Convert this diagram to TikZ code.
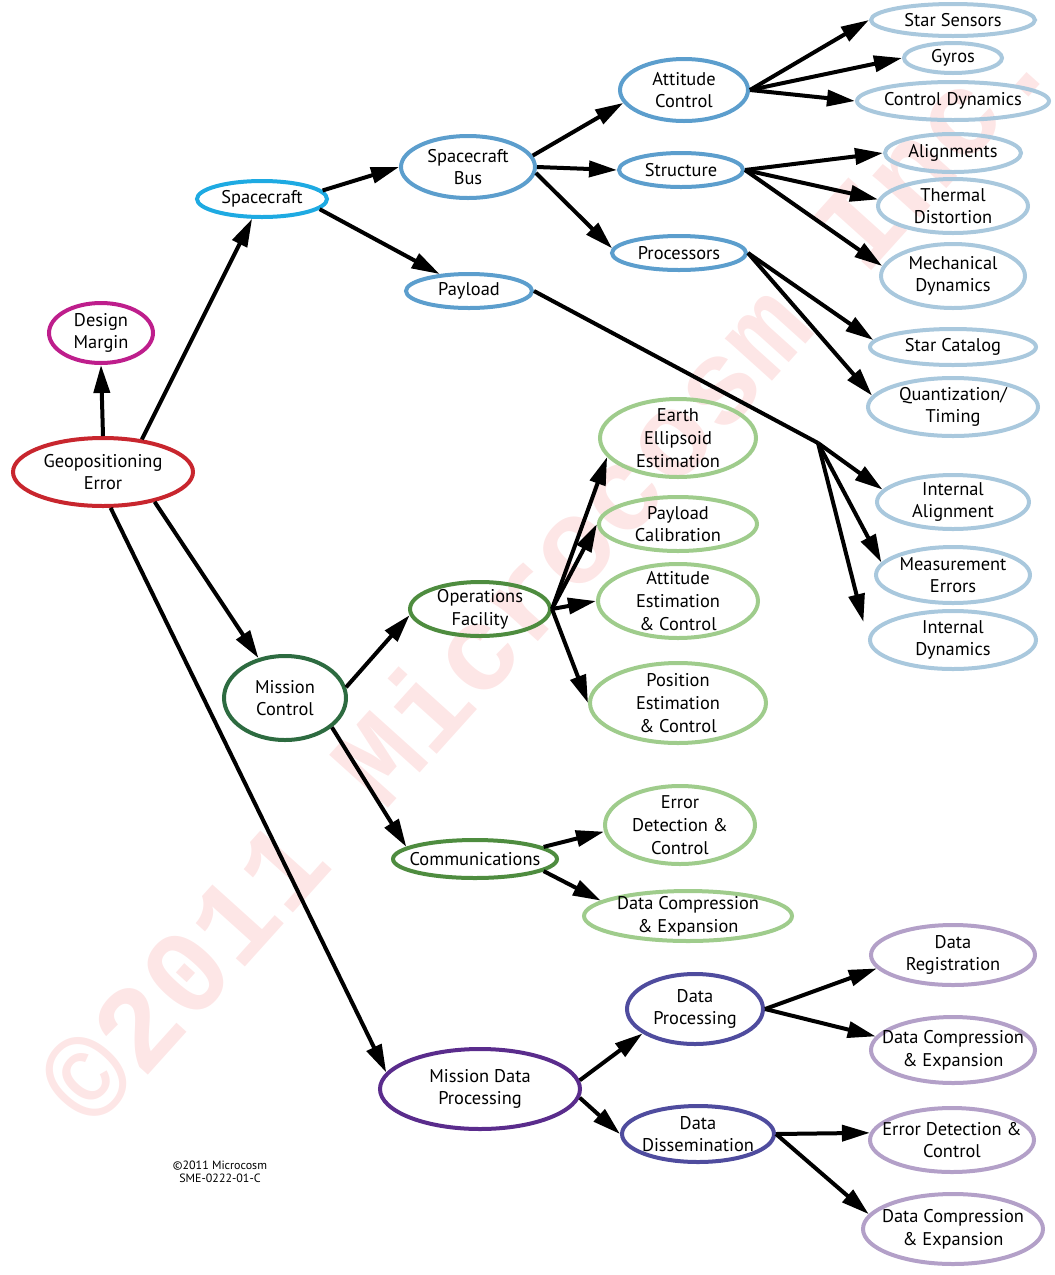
\documentclass[tikz,border=0pt]{standalone}
\usepackage{fontspec}
\setmainfont{PT Sans}
\newfontfamily\wmfont{Liberation Mono}
\usetikzlibrary{shapes.geometric,arrows.meta}
\definecolor{geored}{HTML}{C8262E}
\definecolor{dmmag}{HTML}{BE1E8C}
\definecolor{sccyan}{HTML}{1EAAE2}
\definecolor{busblue}{HTML}{5C9ECD}
\definecolor{leafblue}{HTML}{A9C8DD}
\definecolor{mcgreen}{HTML}{2D6B40}
\definecolor{opgreen}{HTML}{4E8C3F}
\definecolor{leafgreen}{HTML}{9FCC8C}
\definecolor{mdppurple}{HTML}{5A2C8C}
\definecolor{dppurple}{HTML}{4F4C9E}
\definecolor{leafpurple}{HTML}{B3A0C8}
\definecolor{wmpink}{HTML}{FDE6E6}
\begin{document}
\begin{tikzpicture}
    [x=0.75pt,y=-0.75pt,line width=3pt,
     >={Triangle[length=21pt,width=12pt]},
     bub/.style 2 args={ellipse,draw,align=center,inner sep=-60pt,
       minimum width=#1*1.5pt,minimum height=#2*1.5pt}]
    \fontsize{13.8}{17}\selectfont
    \useasboundingbox (0,0) rectangle (1054,1275);
    \node[text=wmpink,rotate=48,font={\wmfont\bfseries\fontsize{90}{90}\selectfont}]
      (wm) at (545,570) {©2011 Microcosm Inc.};
    \node[align=center,font={\fontsize{9}{10}\selectfont}]
      (cr) at (220,1172) {©2011 Microcosm\\SME-0222-01-C};
    % root
    \node[bub={90}{34},draw=geored] (geo) at (103,472) {Geopositioning\\Error};
    \node[bub={52}{30},draw=dmmag] (dm) at (101,333) {Design\\Margin};
    % spacecraft branch
    \node[bub={65}{18},draw=sccyan] (sc) at (262,199) {Spacecraft};
    \node[bub={67}{31},draw=busblue] (sb) at (468,167) {Spacecraft\\Bus};
    \node[bub={63}{17},draw=busblue] (pl) at (469,291) {Payload};
    \node[bub={64}{31},draw=busblue] (ac) at (684,90) {Attitude\\Control};
    \node[bub={62}{17},draw=busblue] (st) at (681,170) {Structure};
    \node[bub={67}{17},draw=busblue] (pr) at (679,253) {Processors};
    \node[bub={82}{16},draw=leafblue] (ss) at (953,20) {Star Sensors};
    \node[bub={49}{15},draw=leafblue] (gy) at (953,58) {Gyros};
    \node[bub={96}{19},draw=leafblue] (cd) at (953,101) {Control Dynamics};
    \node[bub={68}{19},draw=leafblue] (al) at (953,153) {Alignments};
    \node[bub={75}{27},draw=leafblue] (td) at (953,206) {Thermal\\Distortion};
    \node[bub={72}{32},draw=leafblue] (md) at (953,276) {Mechanical\\Dynamics};
    \node[bub={83}{18},draw=leafblue] (sca) at (953,347) {Star Catalog};
    \node[bub={85}{29},draw=leafblue] (qt) at (953,407) {Quantization/\\Timing};
    \node[bub={76}{27},draw=leafblue] (ia) at (953,502) {Internal\\Alignment};
    \node[bub={77}{28},draw=leafblue] (me) at (953,575) {Measurement\\Errors};
    \node[bub={83}{29},draw=leafblue] (id) at (953,640) {Internal\\Dynamics};
    % mission control branch
    \node[bub={61}{42},draw=mcgreen] (mc) at (285,698) {Mission\\Control};
    \node[bub={70}{27},draw=opgreen] (of) at (480,609) {Operations\\Facility};
    \node[bub={82}{19},draw=opgreen] (cm) at (475,859) {Communications};
    \node[bub={78}{39},draw=leafgreen] (ee) at (678,438) {Earth\\Ellipsoid\\Estimation};
    \node[bub={79}{27},draw=leafgreen] (pc) at (678,524) {Payload\\Calibration};
    \node[bub={80}{37},draw=leafgreen] (aec) at (678,601) {Attitude\\Estimation\\\& Control};
    \node[bub={88}{40},draw=leafgreen] (pec) at (678,703) {Position\\Estimation\\\& Control};
    \node[bub={75}{39},draw=leafgreen] (edc) at (680,825) {Error\\Detection \&\\Control};
    \node[bub={104}{25},draw=leafgreen] (dce) at (688,916) {Data Compression\\\& Expansion};
    % mission data processing branch
    \node[bub={100}{40},draw=mdppurple] (mdp) at (480,1089) {Mission Data\\Processing};
    \node[bub={68}{35},draw=dppurple] (dp) at (695,1009) {Data\\Processing};
    \node[bub={76}{28},draw=dppurple] (dd) at (698,1134) {Data\\Dissemination};
    \node[bub={82}{30},draw=leafpurple] (dr) at (953,955) {Data\\Registration};
    \node[bub={82}{33},draw=leafpurple] (dcea) at (953,1050) {Data Compression\\\& Expansion};
    \node[bub={82}{32},draw=leafpurple] (edca) at (952,1140) {Error Detection \&\\Control};
    \node[bub={90}{35},draw=leafpurple] (dceb) at (953,1229) {Data Compression\\\& Expansion};
    \coordinate (br) at (818,443);
    % connectors
    \draw[->] (geo.north) -- (dm.south);
    \draw[->] (geo.40) -- (sc);
    \draw[->] (geo.-30) -- (mc);
    \draw[->] (geo.-78) -- (mdp.170);
    \draw[->] (sc.8) -- (sb.west);
    \draw[->] (sc.-10) -- (pl.150);
    \draw[->] (sb.10) -- (ac.192);
    \draw[->] (sb.0) -- (st.west);
    \draw[->] (sb.-5) -- (pr.176);
    \draw[->] (ac.east) -- (ss.west);
    \draw[->] (ac.east) -- (gy.west);
    \draw[->] (ac.east) -- (cd.west);
    \draw[->] (st.east) -- (al.west);
    \draw[->] (st.east) -- (td.175);
    \draw[->] (st.east) -- (md.172);
    \draw[->] (pr.east) -- (sca.175);
    \draw[->] (pr.east) -- (qt.172);
    \draw (pl.east) -- (br);
    \draw[->] (br) -- (ia.170);
    \draw[->] (br) -- (me.170);
    \draw[->,shorten >=14pt] (br) -- (id.west);
    \draw[->] (mc.10) -- (of.185);
    \draw[->] (mc.-32) -- (cm.170);
    \draw[->] (of.east) -- (ee.195);
    \draw[->] (of.east) -- (pc.west);
    \draw[->] (of.east) -- (aec.west);
    \draw[->] (of.east) -- (pec.west);
    \draw[->] (cm.10) -- (edc.185);
    \draw[->] (cm.-10) -- (dce.170);
    \draw[->] (mdp.5) -- (dp.205);
    \draw[->] (mdp.-5) -- (dd.west);
    \draw[->] (dp.east) -- (dr.190);
    \draw[->] (dp.east) -- (dcea.170);
    \draw[->] (dd.east) -- (edca.175);
    \draw[->] (dd.east) -- (dceb.170);
\end{tikzpicture}
\end{document}
